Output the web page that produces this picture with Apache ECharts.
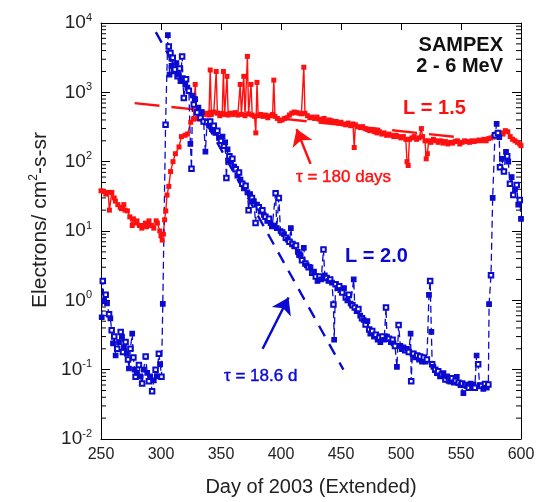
<!DOCTYPE html>
<html lang="en">
<head>
  <script src="https://cdn.jsdelivr.net/npm/echarts@6.0.0/dist/echarts.min.js"></script>
</head>
<body style="margin:0">
  <div id="sampexChart" style="width: 545px;height:502px;"></div>

  <script type="text/javascript">

    // L = 1.5 (red)
    var l15Days = [250, 252, 254, 256, 257, 259, 261, 262, 264, 266, 267, 269, 270, 272, 274, 276, 277, 279, 280, 282,
      284, 285, 287, 288, 290, 291, 292, 294, 296, 297, 299, 300, 301, 302, 303, 304, 305, 306.5, 308, 310,
      312, 315, 317, 320, 322, 324.8, 327, 328.5, 330, 332, 334, 336, 338, 340, 341, 342, 344, 346, 347, 349,
      351, 352, 353, 355, 356, 358, 360, 362, 364, 366, 367, 369, 370, 372, 373, 375, 376, 378, 379, 380,
      381, 383, 385, 387, 389, 391, 393, 394, 395, 397, 399, 401, 403, 405, 407, 409, 411, 413, 415, 417,
      419, 420, 422, 424, 426, 428, 430, 432, 434, 436, 438, 440, 442, 444, 446, 448, 450, 452, 454, 456,
      458, 460, 461, 462, 464, 466, 468, 470, 472, 474, 476, 478, 480, 482, 484, 486, 488, 490, 492, 494,
      496, 498, 500, 502, 504, 505, 506, 507, 509, 511, 513, 515, 517, 518, 520, 521, 522, 523, 525, 527,
      529, 531, 533, 535, 537, 539, 541, 543, 545, 547, 549, 551, 553, 555, 557, 559, 561, 563, 565, 567,
      569, 571, 573, 575, 577, 579, 581, 583, 585, 587, 589, 591, 593, 595, 597, 599, 600];
    var l15Flux = [38, 37, 34, 36, 20, 36, 30, 27, 24, 22, 21, 24, 20, 19.5, 16, 12, 15, 13, 14, 12,
      11, 12, 13, 11.5, 14, 12, 12, 11, 14, 13, 10, 8.5, 7.4, 9, 14.5, 19.5, 33, 44, 72, 100,
      130, 163, 230, 240, 250, 370, 410, 1300, 420, 410, 520, 480, 500, 470, 2100, 480, 520, 2000, 500, 460,
      490, 2000, 480, 1700, 470, 500, 480, 510, 470, 1300, 480, 1700, 460, 3300, 490, 1300, 470, 450, 260, 1390,
      460, 480, 450, 470, 430, 460, 480, 1500, 450, 420, 390, 400, 420, 430, 470, 500, 520, 510, 500, 490,
      2300, 500, 460, 430, 440, 420, 440, 410, 400, 420, 380, 400, 390, 370, 380, 360, 370, 350, 340, 360,
      330, 350, 160, 340, 320, 310, 320, 300, 290, 280, 290, 270, 260, 270, 250, 260, 240, 250, 240, 230,
      240, 230, 220, 230, 210, 100, 88, 210, 220, 230, 210, 220, 300, 230, 200, 110, 130, 200, 190, 210,
      200, 190, 200, 185, 195, 180, 190, 185, 195, 200, 180, 190, 200, 195, 190, 200, 195, 200, 205, 200,
      210, 200, 215, 220, 230, 250, 240, 260, 250, 280, 270, 230, 210, 200, 190, 180, 170];

    // L = 2.0 (blue)
    var l20Days = [250.6, 251.5, 252.5, 253.9, 255, 256.7, 257.8, 258.9, 260, 261, 262.2, 263.5, 265, 266.4, 267.5, 268.3, 269.1, 270.5, 271.5, 272.5,
      273.3, 274.5, 276, 277, 278, 278.8, 280, 281.6, 282.8, 284.3, 285.5, 287.2, 288.5, 289.9, 291, 292.6, 294, 295.5, 296.5, 298.2,
      299.3, 300.4, 301.5, 303.8, 305.7, 306.5, 307.1, 307.9, 308.8, 309.8, 310.6, 311.5, 312.9, 313.8, 314.8, 315.5, 316.2, 317.6, 318.3, 319,
      320.2, 320.9, 322, 323.2, 324.5, 325.4, 326.3, 327.3, 328.5, 330.1, 331.2, 332.9, 334, 335.5, 337, 338.4, 340, 341, 342.5, 344,
      345.3, 347, 348.3, 350, 351.3, 352.5, 353.5, 354.5, 355.5, 357, 358, 359.5, 361, 362.3, 363.6, 365, 366.3, 367.8, 369.1, 370.5,
      372, 373, 374.3, 375.8, 377.4, 378.8, 380, 381.5, 383, 384.5, 385.7, 387, 388.5, 390, 391.3, 392.7, 394, 395.5, 396.5, 398.2,
      399.6, 401, 402.5, 404, 405.5, 407, 408.2, 409.5, 411, 412.5, 414, 415.3, 416.3, 417.5, 419, 420.3, 421.5, 423, 424.6, 426,
      427.5, 429, 430.4, 432, 433.5, 435.4, 436.5, 438, 439.5, 441, 442.5, 443.7, 444.3, 445.5, 447, 448.5, 449.5, 451, 452.5, 454,
      455.3, 456.5, 458, 459.5, 460.6, 461.5, 463, 464.5, 466, 467.5, 468.9, 470.5, 472, 473.5, 474.4, 476, 477.5, 479, 480.5, 482,
      482.8, 484.5, 486, 487.5, 488.3, 490, 491.5, 493, 493.8, 495, 496.6, 498, 499.5, 501, 502.1, 503.5, 505, 506.5, 508, 508.5,
      509.5, 510.4, 512, 513.5, 515, 516, 517.5, 519, 520.5, 521.6, 523.3, 524.3, 525.3, 526, 527, 528.5, 529.9, 531, 532.5, 534,
      535.4, 537, 538.5, 540, 541, 542.5, 544, 545.5, 546.5, 548, 549.5, 551, 552, 553.5, 555, 556.5, 558, 559.5, 560.3, 561.5,
      563, 564.3, 565.5, 567, 568.6, 570, 571.5, 572.8, 573.4, 575, 576.4, 578.3, 579.7, 580.8, 581.9, 582.5, 584, 585.8, 587.5, 588.5,
      589.4, 590.8, 592.2, 593.6, 595, 596.4, 597.7, 599, 600];
    var l20Flux = [0.57, 1.9, 0.98, 1.2, 0.9, 0.63, 0.55, 0.37, 0.24, 0.3, 0.16, 0.2, 0.25, 0.35, 0.3, 0.18, 0.21, 0.25, 0.17, 0.14,
      0.104, 0.2, 0.33, 0.15, 0.1, 0.079, 0.09, 0.117, 0.08, 0.063, 0.1, 0.155, 0.09, 0.068, 0.08, 0.049, 0.07, 0.1, 0.08, 0.17,
      0.12, 0.079, 0.89, 340, 6700, 4600, 1800, 3700, 2400, 3150, 2000, 2130, 2650, 1700, 1800, 2200, 1450, 3300, 1600, 830,
      1300, 1540, 1170, 1050, 180, 79, 900, 670, 800, 510, 600, 430, 520, 380, 140, 370, 330, 380, 295, 330,
      260, 280, 220, 200, 230, 170, 190, 58, 150, 120, 100, 110, 85, 78, 63, 70, 55, 48, 41, 45,
      36, 20, 34, 30, 27, 13, 24, 22, 19, 20, 17, 16, 14, 15, 13, 11.8, 12, 35, 11, 30,
      10, 9.5, 9, 8, 7.5, 7, 11, 6.5, 6, 6.2, 5, 4.6, 4.4, 3.8, 5.7, 3.4, 3.2, 3, 3.0, 2.5,
      2.6, 2.2, 1.9, 2.2, 2.0, 5.4, 2.3, 2.1, 1.9, 2.0, 1.8, 0.87, 0.27, 1.7, 1.5, 1.6, 1.4, 1.3, 1.5, 1.1,
      1.0, 1.2, 0.9, 0.85, 2.0, 0.79, 0.7, 0.75, 0.6, 0.55, 0.52, 0.45, 0.5, 0.38, 0.33, 0.36, 0.3, 0.32, 0.27, 0.29,
      0.25, 0.3, 0.27, 0.79, 0.3, 0.28, 0.25, 0.27, 0.24, 0.22, 0.11, 0.44, 0.22, 0.2, 0.21, 0.19, 0.2, 0.18, 0.33, 0.068,
      0.17, 0.17, 0.15, 0.16, 0.14, 0.155, 0.13, 0.15, 0.13, 0.14, 1.2, 1.9, 0.35, 0.12, 0.11, 0.1, 0.089, 0.095, 0.08, 0.085,
      0.089, 0.072, 0.08, 0.07, 0.067, 0.075, 0.065, 0.07, 0.079, 0.065, 0.06, 0.063, 0.046, 0.06, 0.058, 0.055, 0.063, 0.058, 0.061, 0.055,
      0.16, 0.12, 0.06, 0.058, 0.053, 0.062, 0.055, 0.061, 0.88, 2.3, 30, 240, 350, 260, 225, 83, 110, 72, 138, 120,
      100, 48, 60, 33, 40, 46, 24, 28, 15];

    // decay fits
    var l15FitDays = [278, 548];
    var l15FitFlux = [700, 225];
    var l20FitDays = [295.7, 452];
    var l20FitFlux = [7400, 0.1];

    var yMinorTicks = [];
    for (var e = -2; e < 4; e++) {
      for (var m = 2; m < 10; m++) yMinorTicks.push(m * Math.pow(10, e));
    }

    function pairs(xs, ys) {
      return xs.map(function (x, i) { return [x, ys[i]]; });
    }

    var RED = '#ff1010';
    var BLUE = '#0a0ad0';
    var FONT = 'Liberation Sans, Arial, Helvetica, sans-serif';

    function createChart() {
        const chart = echarts.init(document.getElementById('sampexChart'));

        var option = {
            animation: false,
            grid: { left: 101, right: 24, top: 23, bottom: 59 },
            xAxis: [{
                type: 'value',
                min: 250, max: 600, interval: 50,
                name: 'Day of 2003 (Extended)',
                nameLocation: 'middle',
                nameGap: 38,
                nameTextStyle: { fontFamily: FONT, fontSize: 20, color: '#222' },
                axisLine: { lineStyle: { color: '#000', width: 1 } },
                axisTick: { show: false },
                axisLabel: { fontFamily: FONT, fontSize: 16, color: '#222', margin: 8 },
                splitLine: { show: false }
            }, {
                type: 'value',
                position: 'top',
                min: 250, max: 600, interval: 50,
                axisLine: { show: true, lineStyle: { color: '#000', width: 1 } },
                axisTick: { show: true, inside: true, length: 7, lineStyle: { color: '#000' } },
                axisLabel: { show: false },
                splitLine: { show: false }
            }],
            yAxis: [{
                type: 'log',
                logBase: 10,
                min: 0.01, max: 10000, interval: 1,
                axisLine: { show: true, lineStyle: { color: '#000', width: 1 } },
                axisTick: { show: true, inside: true, length: 9, lineStyle: { color: '#000' } },
                axisLabel: {
                    margin: 9,
                    formatter: function (v) {
                        return '{b|10}{s|' + Math.round(Math.log10(v)) + '}';
                    },
                    rich: {
                        b: { fontFamily: FONT, fontSize: 19, color: '#222' },
                        s: { fontFamily: FONT, fontSize: 11, color: '#222', padding: [0, 0, 11, 0] }
                    }
                },
                splitLine: { show: false }
            }, {
                type: 'log',
                logBase: 10,
                position: 'right',
                min: 0.01, max: 10000, interval: 1,
                axisLine: { show: true, lineStyle: { color: '#000', width: 1 } },
                axisTick: { show: true, inside: true, length: 9, lineStyle: { color: '#000' } },
                axisLabel: { show: false },
                splitLine: { show: false }
            }],
            graphic: [
                {
                    type: 'text', x: 40, y: 220, rotation: Math.PI / 2,
                    style: {
                        text: '{a|Electrons/ cm}{s|2}{a|-s-sr}',
                        align: 'center', verticalAlign: 'middle',
                        rich: {
                            a: { fontFamily: FONT, fontSize: 21, fill: '#222' },
                            s: { fontFamily: FONT, fontSize: 12, fill: '#222', padding: [0, 0, 12, 0] }
                        }
                    }
                },
                { type: 'text', x: 503, y: 45, style: { text: 'SAMPEX', fontFamily: FONT, fontSize: 20, fontWeight: 'bold', fill: '#111', align: 'right', verticalAlign: 'middle' } },
                { type: 'text', x: 503, y: 66, style: { text: '2 - 6 MeV', fontFamily: FONT, fontSize: 20, fontWeight: 'bold', fill: '#111', align: 'right', verticalAlign: 'middle' } },
                { type: 'text', x: 403, y: 108, style: { text: 'L = 1.5', fontFamily: FONT, fontSize: 20, fontWeight: 'bold', fill: RED, align: 'left', verticalAlign: 'middle' } },
                { type: 'text', x: 345, y: 256, style: { text: 'L = 2.0', fontFamily: FONT, fontSize: 20, fontWeight: 'bold', fill: BLUE, align: 'left', verticalAlign: 'middle' } },
                { type: 'text', x: 296, y: 177, style: { text: 'τ = 180 days', fontFamily: FONT, fontSize: 17, fill: RED, stroke: RED, lineWidth: 0.4, align: 'left', verticalAlign: 'middle' } },
                { type: 'text', x: 224, y: 376, style: { text: 'τ = 18.6 d', fontFamily: FONT, fontSize: 17, fill: BLUE, stroke: BLUE, lineWidth: 0.4, align: 'left', verticalAlign: 'middle' } }
            ],
            series: [
                {
                    // minor log ticks on both y axes
                    type: 'custom',
                    silent: true,
                    data: yMinorTicks.map(function (v) { return [250, v]; }),
                    renderItem: function (params, api) {
                        var pl = api.coord([250, api.value(1)]);
                        var pr = api.coord([600, api.value(1)]);
                        return {
                            type: 'group',
                            children: [
                                { type: 'line', shape: { x1: pl[0], y1: pl[1], x2: pl[0] + 5, y2: pl[1] }, style: { stroke: '#000', lineWidth: 1 } },
                                { type: 'line', shape: { x1: pr[0], y1: pr[1], x2: pr[0] - 5, y2: pr[1] }, style: { stroke: '#000', lineWidth: 1 } }
                            ]
                        };
                    }
                },
                {
                    name: 'L = 1.5 fit',
                    type: 'line',
                    data: pairs(l15FitDays, l15FitFlux),
                    showSymbol: false,
                    lineStyle: { color: RED, width: 2.4, type: [25, 12] },
                    markLine: {
                        silent: true,
                        symbol: ['none', 'arrow'],
                        symbolSize: 16,
                        label: { show: false },
                        lineStyle: { color: RED, width: 2.5, type: 'solid' },
                        data: [[{ coord: [424.6, 93] }, { coord: [413, 295] }]]
                    }
                },
                {
                    name: 'L = 2.0 fit',
                    type: 'line',
                    data: pairs(l20FitDays, l20FitFlux),
                    showSymbol: false,
                    lineStyle: { color: BLUE, width: 2.4, type: [12, 9] },
                    markLine: {
                        silent: true,
                        symbol: ['none', 'arrow'],
                        symbolSize: 16,
                        label: { show: false },
                        lineStyle: { color: BLUE, width: 2.5, type: 'solid' },
                        data: [[{ coord: [384.7, 0.2] }, { coord: [406.3, 1.1] }]]
                    }
                },
                {
                    name: 'L = 1.5',
                    type: 'line',
                    data: pairs(l15Days, l15Flux),
                    symbol: 'rect',
                    symbolSize: 5,
                    itemStyle: { color: RED },
                    lineStyle: { color: RED, width: 1.4 }
                },
                {
                    name: 'L = 2.0',
                    type: 'line',
                    data: pairs(l20Days, l20Flux),
                    symbol: function (val, params) {
                        return params.dataIndex % 2 ? 'emptyRect' : 'rect';
                    },
                    symbolSize: 4.5,
                    itemStyle: { color: BLUE, borderColor: BLUE, borderWidth: 1.2 },
                    lineStyle: { color: BLUE, width: 1.3, type: [7, 4] }
                }
            ]
        };

        chart.setOption(option);
    }
    createChart();
  </script>
</body>
</html>
